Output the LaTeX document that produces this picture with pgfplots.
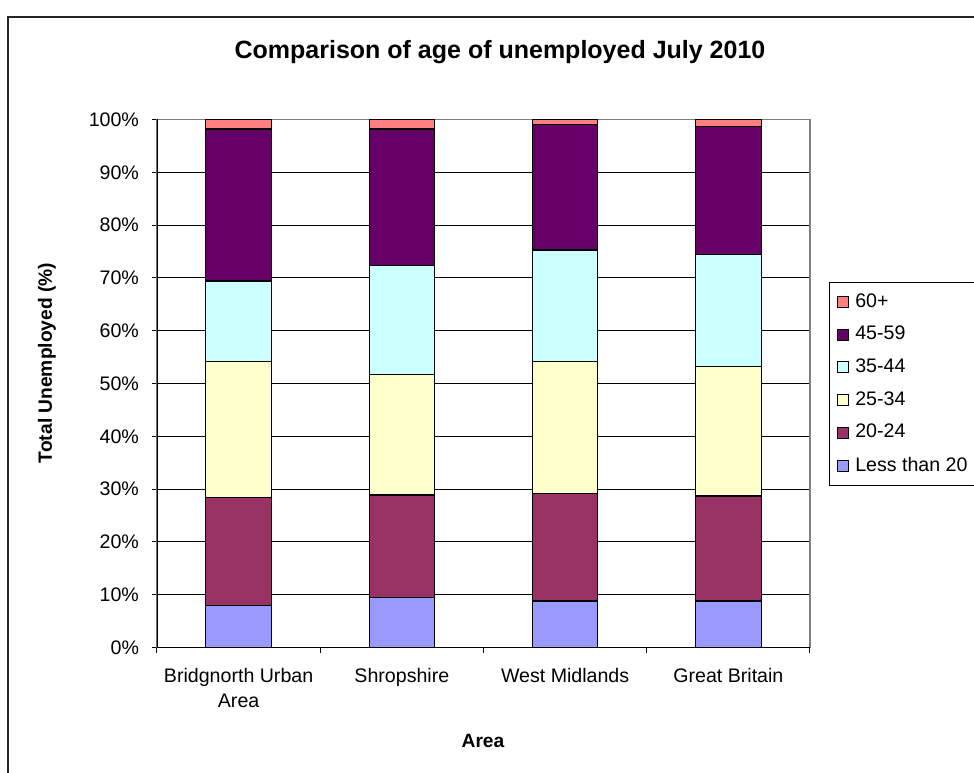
\documentclass[border=0pt]{standalone}
\usepackage{pgfplots}
\usepackage{pgfplotstable}
\pgfplotsset{compat=1.18}
\usepackage{fontspec}
\setmainfont{Liberation Sans}

\definecolor{cless}{HTML}{9999FF}
\definecolor{cb}{HTML}{993366}
\definecolor{cc}{HTML}{FFFFCC}
\definecolor{cd}{HTML}{CCFFFF}
\definecolor{ce}{HTML}{660066}
\definecolor{cf}{HTML}{FF8080}

% shares of unemployed by age band (%)
\pgfplotstableread{
x less a2024 a2534 a3544 a4559 a60
0 8.0 20.4 25.7 15.3 28.8 1.8
1 9.4 19.5 22.8 20.7 25.8 1.8
2 8.8 20.4 24.9 21.2 23.75 0.95
3 8.8 19.9 24.5 21.3 24.2 1.3
}\agedata

\begin{document}
\begin{tikzpicture}[x=1pt,y=1pt]
\clip (-78.5,-62.25) rectangle (408.5,323.75);
\draw[line width=0.8pt, black!85] (-74.5,-90) -- (-74.5,315.25) -- (430,315.25);
\begin{axis}[
    at={(0,0)}, anchor=south west,
    scale only axis,
    width=326.5pt, height=264pt,
    ybar stacked,
    bar width=32.75pt,
    xmin=-0.5, xmax=3.5,
    ymin=0, ymax=100,
    xtick={-0.5,0.5,1.5,2.5,3.5},
    x tick label as interval,
    xticklabels={{Bridgnorth Urban\\Area},Shropshire,West Midlands,Great Britain},
    ytick={0,10,...,100},
    yticklabels={0\%,10\%,20\%,30\%,40\%,50\%,60\%,70\%,80\%,90\%,100\%},
    tick align=outside,
    major tick length=2.5pt,
    xtick pos=bottom, ytick pos=left,
    tick style={black, line width=0.5pt},
    ymajorgrids,
    grid style={black, line width=0.5pt},
    axis line style={draw=gray, line width=0.8pt},
    tick label style={font=\fontsize{9.8}{12.5}\selectfont},
    x tick label style={align=center, yshift=-4.5pt},
    y tick label style={xshift=-3pt},
    /pgf/number format/assume math mode=true,
    legend style={at={(1.0291,0.6922)}, anchor=north west,
        draw=black, line width=0.5pt, fill=white,
        font=\fontsize{9.8}{11}\selectfont,
        row sep=4pt, column sep=1.5pt, inner xsep=3.5pt, inner ysep=3.5pt,
        cells={anchor=west}},
    legend image code/.code={\draw[#1, line width=0.4pt] (0pt,-2.75pt) rectangle (5.5pt,2.75pt);},
    reverse legend,
    every axis plot/.append style={draw=black, line width=0.6pt},
]
\addplot[fill=cless] table[x=x,y=less]{\agedata};
\addplot[fill=cb] table[x=x,y=a2024]{\agedata};
\addplot[fill=cc] table[x=x,y=a2534]{\agedata};
\addplot[fill=cd] table[x=x,y=a3544]{\agedata};
\addplot[fill=ce] table[x=x,y=a4559]{\agedata};
\addplot[fill=cf] table[x=x,y=a60]{\agedata};
\legend{Less than 20,20-24,25-34,35-44,45-59,60+}
\draw[black, line width=0.6pt] (rel axis cs:0,1) -- (rel axis cs:0,0) -- (rel axis cs:1,0);
\end{axis}
\node[font=\bfseries\fontsize{12.5}{14}\selectfont] at (171.5,297.75) {Comparison of age of unemployed July 2010};
\node[font=\bfseries\fontsize{9.6}{11}\selectfont, rotate=90] at (-55,142.25) {Total Unemployed (\%)};
\node[font=\bfseries\fontsize{9.6}{11}\selectfont] at (163,-46.75) {Area};
\end{tikzpicture}
\end{document}
